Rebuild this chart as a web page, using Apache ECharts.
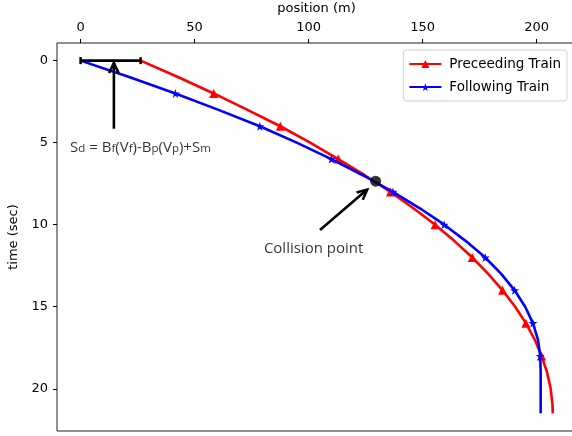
<!DOCTYPE html>
<html>
<head>
<meta charset="utf-8">
<script src="https://cdn.jsdelivr.net/npm/echarts@6/dist/echarts.min.js"></script>
<style>
  html, body { margin: 0; padding: 0; background: #fff; }
  #chart { width: 572px; height: 436px; }
</style>
</head>
<body>
<div id="chart"></div>
<script>
// time samples (sec) and positions (m)
var times = [0, 1, 2, 3, 4, 5, 6, 7, 8, 9, 10, 11, 12, 13, 14, 15, 16, 17, 18, 19, 20, 21, 21.5];
var precedingPos = [26.3, 42.7, 58.4, 73.2, 87.6, 100.7, 113.0, 124.8, 135.9, 146.0, 155.5, 164.0, 171.8, 178.8, 185.1, 190.6, 195.3, 199.2, 202.2, 204.6, 206.2, 207.0, 207.1];
var followingPos = [0, 21.3, 41.6, 60.5, 78.6, 94.8, 110.0, 124.0, 137.0, 148.8, 159.5, 169.0, 177.5, 184.5, 190.4, 195.0, 198.4, 200.6, 201.6, 201.8, 201.8, 201.8, 201.8];
var markerTimes = [2, 4, 6, 8, 10, 12, 14, 16, 18];
var gapSegment = [[0, 0], [26.3, 0]];
var collisionPoint = [129.4, 7.35];
// arrows: [x tail, t tail, x head, t head]
var arrows = [[14.6, 4.15, 14.6, 0.15], [105, 10.33, 125.7, 7.86]];
var xTicks = [0, 50, 100, 150, 200];
var yTicks = [0, 5, 10, 15, 20];

function buildLine(pos) {
    return times.map(function (t, i) {
        var item = { value: [pos[i], t] };
        if (markerTimes.indexOf(t) < 0) item.symbol = 'none';
        return item;
    });
}

var chart = echarts.init(document.getElementById('chart'));
var tickFont = { fontFamily: 'DejaVu Sans', fontSize: 13, color: '#000' };

var option = {
    animation: false,
    grid: {
        left: 57, top: 43, right: -4, bottom: 5,
        outerBoundsMode: 'none', containLabel: false,
        show: true, borderColor: '#222', borderWidth: 1
    },
    legend: {
        data: ['Preceeding Train', 'Following Train'],
        orient: 'vertical',
        right: 5, top: 50,
        itemWidth: 32, itemHeight: 10, itemGap: 9,
        padding: [7, 6, 7, 5],
        borderColor: '#d0d0d0', borderWidth: 1, borderRadius: 3,
        backgroundColor: '#fff',
        textStyle: { fontFamily: 'DejaVu Sans', fontSize: 13.5, color: '#000', padding: [0, 0, 0, 3] }
    },
    xAxis: {
        type: 'value', position: 'top',
        min: -10.35, max: 217.3,
        name: 'position (m)', nameLocation: 'middle', nameGap: 28,
        nameTextStyle: tickFont,
        axisLine: { show: false, onZero: false },
        axisTick: { show: true, length: 4, lineStyle: { color: '#000' }, customValues: xTicks },
        axisLabel: Object.assign({ margin: 9, customValues: xTicks }, tickFont),
        splitLine: { show: false }
    },
    yAxis: {
        type: 'value', inverse: true,
        min: -1.075, max: 22.575,
        name: 'time (sec)', nameLocation: 'middle', nameGap: 37,
        nameTextStyle: tickFont,
        axisLine: { show: false, onZero: false },
        axisTick: { show: true, length: 4, lineStyle: { color: '#000' }, customValues: yTicks },
        axisLabel: Object.assign({ margin: 9, customValues: yTicks }, tickFont),
        splitLine: { show: false }
    },
    series: [{
        name: 'Preceeding Train', type: 'line',
        data: buildLine(precedingPos),
        symbol: 'triangle', symbolSize: 9, showSymbol: true,
        lineStyle: { color: '#ff0000', width: 2.6 },
        itemStyle: { color: '#ff0000' },
        z: 2
    }, {
        name: 'Following Train', type: 'line',
        data: buildLine(followingPos),
        symbol: 'path://M50,0 L61,35 L98,35 L68,57 L79,91 L50,70 L21,91 L32,57 L2,35 L39,35 Z',
        symbolSize: 9, showSymbol: true,
        lineStyle: { color: '#0000ff', width: 2.6 },
        itemStyle: { color: '#0000ff' },
        z: 3
    }, {
        name: 'gap', type: 'line',
        data: gapSegment,
        symbol: 'rect', symbolSize: [2.5, 7],
        lineStyle: { color: '#000', width: 2.6 },
        itemStyle: { color: '#000' },
        z: 4
    }, {
        name: 'collision', type: 'scatter',
        data: [collisionPoint],
        symbol: 'circle', symbolSize: 11,
        itemStyle: { color: '#000' },
        z: 5
    }, {
        name: 'arrows', type: 'custom',
        data: arrows,
        encode: { x: [0, 2], y: [1, 3] },
        renderItem: function (params, api) {
            var a = api.coord([api.value(0), api.value(1)]);
            var b = api.coord([api.value(2), api.value(3)]);
            var ang = Math.atan2(a[1] - b[1], a[0] - b[0]);
            var h = 11, spread = 0.45;
            var l = [b[0] + h * Math.cos(ang + spread), b[1] + h * Math.sin(ang + spread)];
            var r = [b[0] + h * Math.cos(ang - spread), b[1] + h * Math.sin(ang - spread)];
            var st = { stroke: '#000', lineWidth: 2.6, fill: null };
            return {
                type: 'group',
                children: [
                    { type: 'polyline', shape: { points: [a, b] }, style: st },
                    { type: 'polyline', shape: { points: [l, b, r] }, style: st }
                ]
            };
        },
        z: 6
    }, {
        name: 'texts', type: 'scatter',
        symbolSize: 0,
        data: [{
            value: [-4.6, 5.15],
            label: {
                show: true, position: 'right', distance: 0,
                formatter: '{n|S}{s|d}{n| = B}{s|f}{n|(V}{s|f}{n|)-B}{s|p}{n|(V}{s|p}{n|)+S}{s|m}',
                rich: {
                    n: { fontFamily: 'Open Sans', fontSize: 15, color: '#000', lineHeight: 20, verticalAlign: 'bottom' },
                    s: { fontFamily: 'Open Sans', fontSize: 11.5, color: '#000', lineHeight: 16, verticalAlign: 'bottom' }
                }
            }
        }, {
            value: [102.2, 11.45],
            label: {
                show: true, position: 'inside',
                formatter: 'Collision point',
                fontFamily: 'Open Sans', fontSize: 15, color: '#000'
            }
        }],
        z: 7
    }]
};

chart.setOption(option);
window.addEventListener('resize', chart.resize);
</script>
</body>
</html>
